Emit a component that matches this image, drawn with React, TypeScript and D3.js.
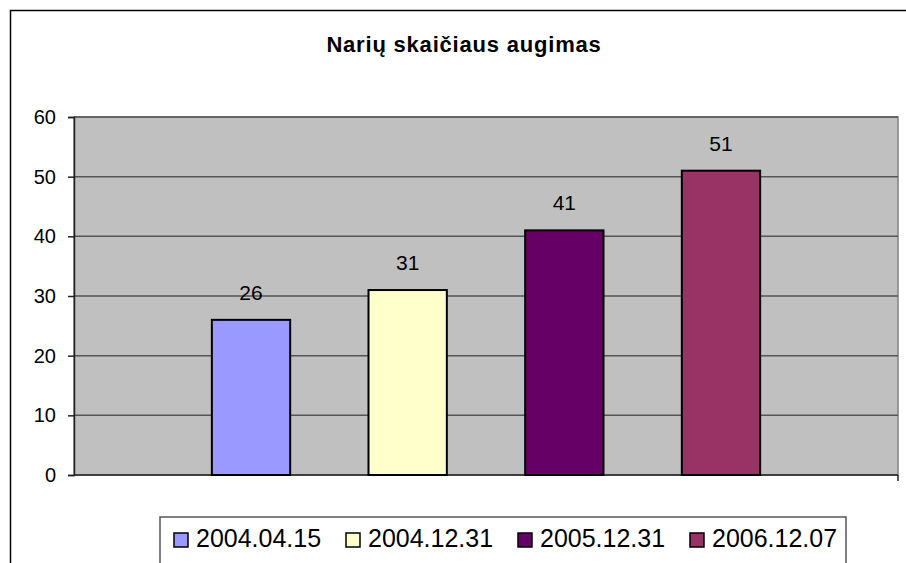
import React, { useRef, useEffect } from 'react';
import * as d3 from 'd3';

// one category, each date is its own series
const series = ['2004.04.15', '2004.12.31', '2005.12.31', '2006.12.07'];
const values = [26, 31, 41, 51];
const colors = ['#9999FF', '#FFFFCC', '#660066', '#993366'];
const yTicks = [0, 10, 20, 30, 40, 50, 60];
const title = 'Narių skaičiaus augimas';

const W = 906;
const H = 563;
const FONT = '"Liberation Sans", Arial, sans-serif';

const App = () => {
  const svgRef = useRef<SVGSVGElement>(null);

  useEffect(() => {
    const svg = d3.select(svgRef.current);
    svg.selectAll('*').remove();

    const plot = { left: 74, top: 117, right: 898, bottom: 475 };

    // chart border (runs past the right/bottom edge of the picture)
    svg.append('rect')
      .attr('x', 10.5).attr('y', 10.5)
      .attr('width', W + 20).attr('height', H + 20)
      .attr('fill', '#fff').attr('stroke', '#000').attr('stroke-width', 1.5);

    svg.append('text')
      .attr('x', 464).attr('y', 52)
      .attr('text-anchor', 'middle')
      .attr('font-family', FONT).attr('font-size', 22).attr('font-weight', 'bold')
      .attr('letter-spacing', 0.8)
      .text(title);

    const x = d3.scaleBand<string>()
      .domain(series)
      .range([plot.left, plot.right])
      .paddingInner(0.5)
      .paddingOuter(0.88);

    const y = d3.scaleLinear()
      .domain([0, 60])
      .range([plot.bottom, plot.top]);

    svg.append('rect')
      .attr('x', plot.left).attr('y', plot.top)
      .attr('width', plot.right - plot.left).attr('height', plot.bottom - plot.top)
      .attr('fill', '#C0C0C0').attr('stroke', '#808080').attr('stroke-width', 1.5);

    svg.append('g')
      .selectAll('line')
      .data(yTicks.filter(d => d > 0))
      .enter()
      .append('line')
      .attr('x1', plot.left).attr('x2', plot.right)
      .attr('y1', d => y(d)).attr('y2', d => y(d))
      .attr('stroke', '#555').attr('stroke-width', 1.5);

    const yAxis = svg.append('g')
      .attr('transform', `translate(${plot.left},0)`)
      .call(d3.axisLeft(y).tickValues(yTicks).tickSize(6).tickPadding(12));
    yAxis.select('.domain').attr('stroke', '#222').attr('stroke-width', 1.5);
    yAxis.selectAll('.tick line').attr('stroke', '#222').attr('stroke-width', 1.5);
    yAxis.selectAll('.tick text')
      .attr('font-family', FONT).attr('font-size', 20).attr('fill', '#000');

    // x axis line with end tick
    svg.append('line')
      .attr('x1', plot.left).attr('x2', plot.right)
      .attr('y1', plot.bottom).attr('y2', plot.bottom)
      .attr('stroke', '#222').attr('stroke-width', 1.5);
    svg.append('line')
      .attr('x1', plot.right).attr('x2', plot.right)
      .attr('y1', plot.bottom).attr('y2', plot.bottom + 6)
      .attr('stroke', '#222').attr('stroke-width', 1.5);

    svg.append('g')
      .selectAll('rect')
      .data(series)
      .enter()
      .append('rect')
      .attr('x', d => x(d)!)
      .attr('y', (d, i) => y(values[i]))
      .attr('width', x.bandwidth())
      .attr('height', (d, i) => plot.bottom - y(values[i]))
      .attr('fill', (d, i) => colors[i])
      .attr('stroke', '#000').attr('stroke-width', 2);

    svg.append('g')
      .selectAll('text')
      .data(series)
      .enter()
      .append('text')
      .attr('x', d => x(d)! + x.bandwidth() / 2)
      .attr('y', (d, i) => y(values[i]) - 20)
      .attr('text-anchor', 'middle')
      .attr('font-family', FONT).attr('font-size', 21)
      .text((d, i) => values[i]);

    // legend
    const legend = svg.append('g');
    legend.append('rect')
      .attr('x', 160).attr('y', 517)
      .attr('width', 686).attr('height', 60)
      .attr('fill', '#fff').attr('stroke', '#555').attr('stroke-width', 1.5);

    const item = legend.selectAll('g')
      .data(series)
      .enter()
      .append('g')
      .attr('transform', (d, i) => `translate(${174 + i * 172},533)`);
    item.append('rect')
      .attr('width', 14).attr('height', 14)
      .attr('fill', (d, i) => colors[i])
      .attr('stroke', '#000').attr('stroke-width', 1.5);
    item.append('text')
      .attr('x', 22).attr('y', 14)
      .attr('font-family', FONT).attr('font-size', 25)
      .text(d => d);
  }, []);

  return (
    <svg
      ref={svgRef}
      width={W}
      height={H}
      style={{ position: 'absolute', left: 0, top: 0, display: 'block' }}
    />
  );
};

export default App;
